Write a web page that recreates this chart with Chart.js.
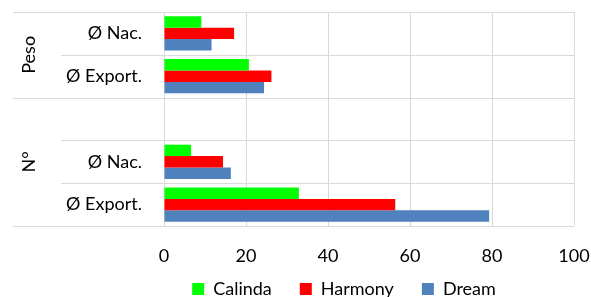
<!DOCTYPE html>
<html>
<head>
<meta charset="utf-8">
<script src="https://cdn.jsdelivr.net/npm/chart.js@4.4.1/dist/chart.umd.min.js"></script>
<style>
  html, body { margin:0; padding:0; background:#fff; overflow:hidden; }
  #wrap { position:relative; width:591px; height:322px; }
</style>
</head>
<body>
<div id="wrap"><canvas id="c"></canvas></div>
<script>
// ---- data ----
const categories = ['Ø Nac.', 'Ø Export.', '', 'Ø Nac.', 'Ø Export.'];
const groupNames = ['Peso', 'N°'];
const groupFirst = [0, 2];
const groupLast  = [1, 4];
const seriesNames = ['Calinda', 'Harmony', 'Dream'];
const calinda = [9.1, 20.7, null, 6.6, 32.9];
const harmony = [17.1, 26.2, null, 14.4, 56.4];
const dream   = [11.6, 24.4, null, 16.3, 79.3];
const xTicks  = [0, 20, 40, 60, 80, 100];

const FONT = 'Lato, "Open Sans", sans-serif';
const GRID = '#d9d9d9';

const groupPlugin = {
  id: 'groups',
  afterLayout(chart) {
    const lg = chart.legend;
    if (lg) { lg.left += 57; lg.right += 57; lg.top -= 14; lg.bottom -= 14; }
  },
  beforeDatasetsDraw(chart) {
    const { ctx, chartArea, scales } = chart;
    const y = scales.y;
    const half = (y.getPixelForValue(1) - y.getPixelForValue(0)) / 2;
    const n = categories.length;
    ctx.save();
    ctx.strokeStyle = GRID;
    ctx.lineWidth = 1;
    for (let k = 0; k <= n; k++) {
      const py = Math.round(k < n ? y.getPixelForValue(k) - half : y.getPixelForValue(n - 1) + half) + 0.5;
      const isLong = groupFirst.includes(k) || k === n;
      const x0 = isLong ? 13 : 61;
      ctx.beginPath();
      ctx.moveTo(x0, py);
      ctx.lineTo(chartArea.right, py);
      ctx.stroke();
    }
    ctx.fillStyle = '#000';
    ctx.font = '18px ' + FONT;
    ctx.textAlign = 'center';
    ctx.textBaseline = 'middle';
    groupNames.forEach((g, i) => {
      const cy = (y.getPixelForValue(groupFirst[i]) + y.getPixelForValue(groupLast[i])) / 2;
      ctx.save();
      ctx.translate(29, cy);
      ctx.rotate(-Math.PI / 2);
      ctx.fillText(g, 0, 0);
      ctx.restore();
    });
    ctx.restore();
  }
};

new Chart(document.getElementById('c'), {
  type: 'bar',
  data: {
    labels: categories,
    datasets: [
      { label: seriesNames[0], data: calinda, backgroundColor: '#00ff00' },
      { label: seriesNames[1], data: harmony, backgroundColor: '#ff0000' },
      { label: seriesNames[2], data: dream,   backgroundColor: '#4f81bd' }
    ]
  },
  options: {
    indexAxis: 'y',
    responsive: true,
    maintainAspectRatio: false,
    animation: false,
    datasets: { bar: { categoryPercentage: 0.8, barPercentage: 1.0 } },
    layout: { padding: { top: 12, right: 17, left: 0, bottom: 0 } },
    scales: {
      x: {
        min: 0, max: 100,
        afterBuildTicks: (s) => { s.ticks = xTicks.map(v => ({ value: v })); },
        ticks: { font: { family: FONT, size: 18 }, color: '#000', padding: 19 },
        grid: { color: GRID, lineWidth: 1, drawTicks: false },
        border: { display: false },
        afterFit: (s) => { s.height = 40; s.paddingLeft = 0; s.paddingRight = 0; s.paddingTop = 0; s.paddingBottom = 0; }
      },
      y: {
        ticks: { font: { family: FONT, size: 18 }, color: '#000', padding: 22 },
        grid: { display: false, drawTicks: false },
        border: { display: false },
        afterFit: (s) => { s.width = 164; s.paddingTop = 0; s.paddingBottom = 0; s.paddingLeft = 0; s.paddingRight = 0; }
      }
    },
    plugins: {
      legend: {
        position: 'bottom',
        labels: { boxWidth: 12, boxHeight: 12, padding: 28, color: '#000', font: { family: FONT, size: 18 } }
      },
      tooltip: { enabled: false }
    }
  },
  plugins: [groupPlugin]
});
</script>
</body>
</html>
